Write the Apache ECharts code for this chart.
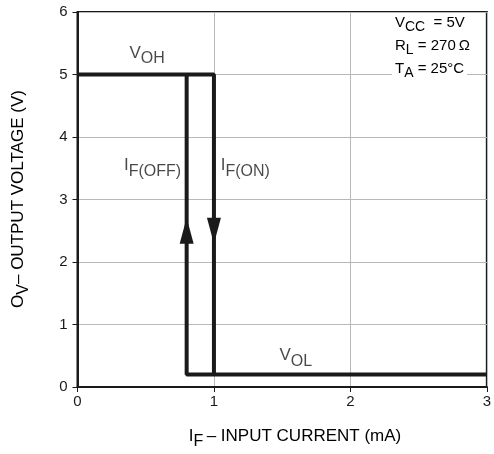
<!DOCTYPE html>
<html>
<head>
<meta charset="utf-8">
<script src="https://cdn.jsdelivr.net/npm/echarts@6/dist/echarts.min.js"></script>
<style>html,body{margin:0;padding:0;background:#fff;}#c{width:494px;height:454px;}</style>
</head>
<body>
<div id="c"></div>
<script>
// Axis ticks
const xTicks = [0, 1, 2, 3];
const yTicks = [0, 1, 2, 3, 4, 5, 6];
// Transfer curve (IF ON path): high level until 1 mA, then drop to VOL
const onPath = [[0, 5], [1, 5], [1, 0.2], [3, 0.2]];
// Return path (IF OFF): low level back to 0.8 mA, then rise to VOH
const offPath = [[1, 0.2], [0.8, 0.2], [0.8, 5]];
// Direction arrows [x, y]
const upArrow = [[0.8, 2.5]];
const downArrow = [[1, 2.5]];
// In-plot labels: [x, y, main, sub]
const labels = [
  [0.51, 5.3, 'V', 'OH'],
  [0.55, 3.5, 'I', 'F(OFF)'],
  [1.23, 3.5, 'I', 'F(ON)'],
  [1.6, 0.46, 'V', 'OL']
];
// Conditions
const conditions = [['V', 'CC', '  = 5V'], ['R', 'L', ' = 270\u2009\u03A9'], ['T', 'A', ' = 25°C']];

const FONT = '"Liberation Sans", Arial, Helvetica, sans-serif';
const INK = '#1a1a1a';
const rich = {
  m: {fontSize: 17, fontFamily: FONT, color: INK, verticalAlign: 'bottom', padding: [0, 0, 5, 0]},
  s: {fontSize: 16, fontFamily: FONT, color: INK, verticalAlign: 'bottom'}
};
const richSmall = {
  m: {fontSize: 15, fontFamily: FONT, color: INK, verticalAlign: 'bottom', padding: [0, 0, 4, 0]},
  s: {fontSize: 14, fontFamily: FONT, color: INK, verticalAlign: 'bottom'}
};

const chart = echarts.init(document.getElementById('c'), null, {renderer: 'canvas'});

const condGraphics = conditions.map((c, i) => ({
  type: 'text',
  left: 392,
  top: 15 + i * 23,
  z: 100,
  style: {
    text: '{m|' + c[0] + '}{s|' + c[1] + '}{m|' + c[2] + '}',
    rich: richSmall,
    backgroundColor: '#fff',
    padding: [0, 3, 0, 3]
  }
}));

chart.setOption({
  animation: false,
  backgroundColor: '#fff',
  grid: {left: 77.5, right: 4, top: 12, bottom: 67,
         show: true, borderColor: INK, borderWidth: 2, backgroundColor: 'transparent'},
  xAxis: {
    type: 'value', min: xTicks[0], max: xTicks[xTicks.length - 1], interval: 1,
    axisLine: {show: true, onZero: false, lineStyle: {color: INK, width: 2}},
    axisTick: {show: true, length: 5, lineStyle: {color: INK, width: 1}},
    axisLabel: {color: INK, fontSize: 15, fontFamily: FONT, margin: 7},
    splitLine: {show: true, lineStyle: {color: '#b8b8b8', width: 1}}
  },
  yAxis: {
    type: 'value', min: yTicks[0], max: yTicks[yTicks.length - 1], interval: 1,
    axisLine: {show: true, onZero: false, lineStyle: {color: INK, width: 2}},
    axisTick: {show: true, length: 5, lineStyle: {color: INK, width: 1}},
    axisLabel: {color: INK, fontSize: 15, fontFamily: FONT, margin: 10},
    splitLine: {show: true, lineStyle: {color: '#b8b8b8', width: 1}}
  },
  graphic: [
    {
      type: 'text', x: 295, y: 439, z: 100,
      style: {
        text: '{m|I}{s|F}{m|\u2009\u2013 INPUT CURRENT (mA)}',
        rich: rich, align: 'center', verticalAlign: 'middle'
      }
    },
    {
      type: 'text', x: 21, y: 199, rotation: Math.PI / 2, z: 100,
      style: {
        text: '{m|O}{s|V}{m|\u2013 OUTPUT VOLTAGE (V)}',
        rich: rich, align: 'center', verticalAlign: 'middle'
      }
    }
  ].concat(condGraphics),
  series: [
    {type: 'line', data: onPath, showSymbol: false, symbol: 'none',
     lineStyle: {color: INK, width: 4}, z: 5},
    {type: 'line', data: offPath, showSymbol: false, symbol: 'none',
     lineStyle: {color: INK, width: 4}, z: 5},
    {type: 'scatter', data: upArrow, symbol: 'triangle', symbolSize: [14, 26],
     itemStyle: {color: INK, opacity: 1}, z: 6},
    {type: 'scatter', data: downArrow, symbol: 'triangle', symbolSize: [14, 26], symbolRotate: 180,
     itemStyle: {color: INK, opacity: 1}, z: 6},
    {type: 'scatter', symbolSize: 0, z: 7,
     data: labels.map(l => ({value: [l[0], l[1]], main: l[2], sub: l[3]})),
     label: {show: true, position: 'inside',
             formatter: p => '{m|' + p.data.main + '}{s|' + p.data.sub + '}',
             rich: rich}
    }
  ]
});
</script>
</body>
</html>
